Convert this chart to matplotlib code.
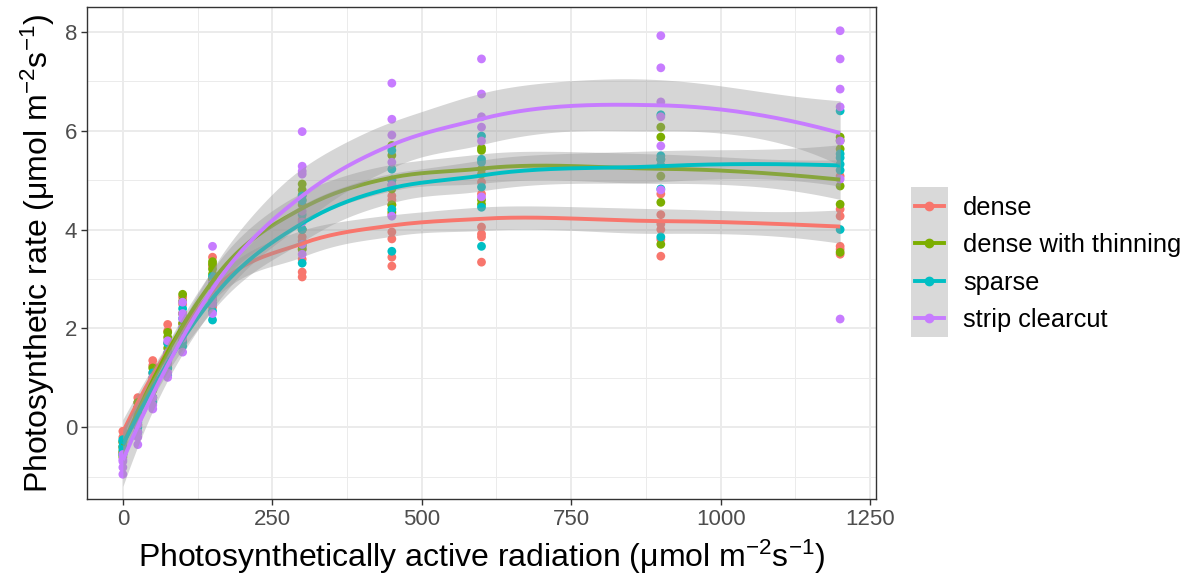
import numpy as np
import matplotlib
matplotlib.use("Agg")
import matplotlib.pyplot as plt
from matplotlib.lines import Line2D
from matplotlib.patches import Rectangle

plt.rcParams['font.family'] = ['Liberation Sans', 'DejaVu Sans']
plt.rcParams['mathtext.fontset'] = 'custom'
plt.rcParams['mathtext.rm'] = 'Liberation Sans'
plt.rcParams['mathtext.it'] = 'Liberation Sans'

par_levels = [0, 25, 50, 75, 100, 150, 300, 450, 600, 900, 1200]
groups = ["dense", "dense with thinning", "sparse", "strip clearcut"]
colors = ["#F8766D", "#7CAE00", "#00BFC4", "#C77CFF"]

dense = [
    [-0.08, -0.2, -0.3, -0.4, -0.5],
    [0.6, 0.5, 0.4, 0.3, 0.2],
    [1.35, 1.25, 1.1, 0.9, 0.8],
    [2.08, 1.95, 1.7, 1.5, 1.3],
    [2.63, 2.49, 2.3, 2.1, 2.0, 1.9],
    [3.44, 3.26, 2.9, 2.59, 2.43, 3.0],
    [3.85, 3.77, 3.4, 3.14, 3.04, 3.6, 4.0, 4.2],
    [4.68, 3.95, 3.81, 3.44, 3.26, 4.3, 4.6, 4.5],
    [4.96, 4.72, 4.05, 3.91, 3.85, 3.34],
    [4.72, 4.3, 4.11, 4.0, 3.46, 3.8],
    [5.08, 4.41, 4.27, 3.66, 3.5, 3.6],
]
dense_thinning = [
    [-0.3, -0.4, -0.5, -0.55, -0.6],
    [0.5, 0.4, 0.3, 0.15, 0.05],
    [1.2, 1.0, 0.9, 0.75, 0.6],
    [1.92, 1.82, 1.6, 1.4, 1.2],
    [2.69, 2.55, 2.3, 2.1, 1.9, 1.75],
    [3.3, 3.2, 3.1, 3.0, 2.85, 3.35],
    [4.92, 4.8, 4.7, 4.6, 4.5, 4.0, 3.66, 3.6],
    [5.7, 5.5, 5.0, 4.82, 4.35, 4.5],
    [5.65, 5.6, 5.22, 5.12, 4.51, 4.6],
    [6.07, 5.87, 5.42, 5.08, 4.55, 3.7],
    [5.87, 5.63, 4.88, 4.51, 3.54, 5.8],
]
sparse = [
    [-0.25, -0.28, -0.38, -0.45, -0.55],
    [0.4, 0.25, 0.1, 0.0, -0.1],
    [1.1, 0.9, 0.77, 0.6, 0.5],
    [1.7, 1.5, 1.35, 1.2, 1.05],
    [2.2, 2.0, 1.9, 1.72, 1.64, 2.4],
    [2.35, 2.17, 2.6, 2.9, 3.05, 2.5],
    [4.68, 4.58, 4.3, 3.32, 3.7, 4.0],
    [5.22, 4.41, 3.56, 5.6, 5.0, 4.9],
    [5.89, 5.42, 5.36, 4.86, 4.45, 3.66],
    [6.32, 5.49, 5.42, 4.82, 3.85, 5.3],
    [6.4, 5.53, 5.32, 4.0, 5.45, 5.2],
]
strip_clearcut = [
    [-0.55, -0.65, -0.69, -0.81, -0.95],
    [0.2, 0.05, -0.1, -0.2, -0.35],
    [1.0, 0.8, 0.6, 0.45, 0.37],
    [1.75, 1.5, 1.3, 1.1, 1.01],
    [2.53, 2.3, 2.0, 1.8, 1.52, 2.2],
    [3.66, 2.7, 2.5, 2.3, 2.9, 2.6],
    [5.98, 5.28, 5.18, 5.12, 4.37, 4.15, 3.7, 3.5],
    [6.96, 6.23, 5.91, 5.36, 4.27, 4.9],
    [7.45, 6.74, 6.28, 6.07, 5.79, 4.66],
    [7.92, 7.27, 6.58, 6.28, 5.69, 4.8],
    [8.02, 7.45, 6.84, 6.48, 5.79, 5.02, 2.19],
]
all_data = [dense, dense_thinning, sparse, strip_clearcut]


def flatten(rows):
    xs, ys = [], []
    for p, vals in zip(par_levels, rows):
        xs += [p] * len(vals)
        ys += vals
    return np.array(xs, float), np.array(ys, float)


def local_rows(xsc, x0, q):
    # local quadratic fit with tricube weights: rows for value and slope
    n = len(xsc)
    d = np.abs(xsc - x0)
    h = np.sort(d)[q - 1] * 1.0001
    u = d / h
    w = np.where(u < 1, (1 - u ** 3) ** 3, 0.0)
    X = np.column_stack([np.ones(n), xsc - x0, (xsc - x0) ** 2])
    A = X.T @ (w[:, None] * X)
    B = np.linalg.solve(A, (X * w[:, None]).T)
    return B[0], B[1]


def loess_operator(x, pts, span=0.75):
    # loess evaluated at vertices, cubic hermite interpolation in between
    xsc = x / 1000.0
    q = int(np.floor(len(x) * span))
    verts = np.unique(xsc)
    L0, L1 = zip(*[local_rows(xsc, v, q) for v in verts])
    L0, L1 = np.array(L0), np.array(L1)
    rows = []
    for p in np.asarray(pts) / 1000.0:
        i = min(np.searchsorted(verts, p, side='right') - 1, len(verts) - 2)
        i = max(i, 0)
        hh = verts[i + 1] - verts[i]
        t = (p - verts[i]) / hh
        h00 = 2 * t ** 3 - 3 * t ** 2 + 1
        h10 = t ** 3 - 2 * t ** 2 + t
        h01 = -2 * t ** 3 + 3 * t ** 2
        h11 = t ** 3 - t ** 2
        rows.append(h00 * L0[i] + h10 * hh * L1[i] + h01 * L0[i + 1] + h11 * hh * L1[i + 1])
    return np.array(rows)


def t975(df):
    z = 1.959964
    return z + (z ** 3 + z) / (4 * df) + (5 * z ** 5 + 16 * z ** 3 + 3 * z) / (96 * df ** 2)


def smooth(x, y, grid):
    Ld = loess_operator(x, x)
    M = np.eye(len(x)) - Ld
    R = M.T @ M
    one_delta = np.trace(R)
    two_delta = np.trace(R @ R)
    s = np.sqrt(np.sum((y - Ld @ y) ** 2) / one_delta)
    Lg = loess_operator(x, grid)
    fit = Lg @ y
    se = s * np.sqrt(np.sum(Lg ** 2, axis=1))
    t = t975(one_delta ** 2 / two_delta)
    return fit, fit - t * se, fit + t * se


fig = plt.figure(figsize=(11.88, 5.86), dpi=100)
ax = fig.add_axes([87 / 1188, 1 - 499 / 586, (876 - 87) / 1188, (499 - 7) / 586])

grid = np.linspace(0, 1200, 160)
z = 3
for data, col in zip(all_data, colors):
    x, y = flatten(data)
    ax.scatter(x, y, s=40, color=col, edgecolors='none', zorder=2)
for data, col in zip(all_data, colors):
    x, y = flatten(data)
    fit, lo, hi = smooth(x, y, grid)
    ax.fill_between(grid, lo, hi, color='#999999', alpha=0.4, linewidth=0, zorder=z)
    ax.plot(grid, fit, color=col, lw=2.8, zorder=z + 1, solid_capstyle='butt')
    z += 2

ax.set_xlim(-60, 1260)
ax.set_ylim(-1.45, 8.5)
ax.set_xticks([0, 250, 500, 750, 1000, 1250])
ax.set_yticks([0, 2, 4, 6, 8])
ax.set_xticks([125, 375, 625, 875, 1125], minor=True)
ax.set_yticks([-1, 1, 3, 5, 7], minor=True)
ax.grid(True, which='major', color='#EBEBEB', lw=1.4, zorder=0)
ax.grid(True, which='minor', color='#EBEBEB', lw=0.7, zorder=0)
ax.set_axisbelow(True)
for sp in ax.spines.values():
    sp.set_color('#333333')
    sp.set_linewidth(1.0)
ax.tick_params(which='major', length=4, width=1, color='#333333',
               labelsize=16, labelcolor='#4D4D4D', pad=3)
ax.tick_params(which='minor', length=0)

ax.set_xlabel(r'Photosynthetically active radiation (μmol m$^{-2}$s$^{-1}$)', fontsize=23, labelpad=6)
ax.set_ylabel(r'Photosynthetic rate (μmol m$^{-2}$s$^{-1}$)', fontsize=23, labelpad=6)

handles = [Line2D([], [], color=c, lw=2.8, marker='o', markersize=6) for c in colors]
leg = fig.legend(handles, groups, loc='center left', bbox_to_anchor=(892 / 1188, 1 - 264 / 586),
                 frameon=False, fontsize=18.3, handlelength=1.15, handletextpad=0.75,
                 labelspacing=0.53)

# grey key background like the ggplot legend keys
fig.canvas.draw()
r = fig.canvas.get_renderer()
boxes = [h.get_window_extent(r) for h in leg.legend_handles]
x0 = min(b.x0 for b in boxes)
x1 = max(b.x1 for b in boxes)
ys = [(b.y0 + b.y1) / 2 for b in boxes]
step = abs(ys[0] - ys[1])
top = max(ys) + step / 2
bot = min(ys) - step / 2
fig.patches.append(Rectangle((x0 / 1188, bot / 586), (x1 - x0) / 1188, (top - bot) / 586,
                             transform=fig.transFigure, facecolor='#D9D9D9', edgecolor='none',
                             zorder=-1))

fig.savefig('out.png', dpi=100)
